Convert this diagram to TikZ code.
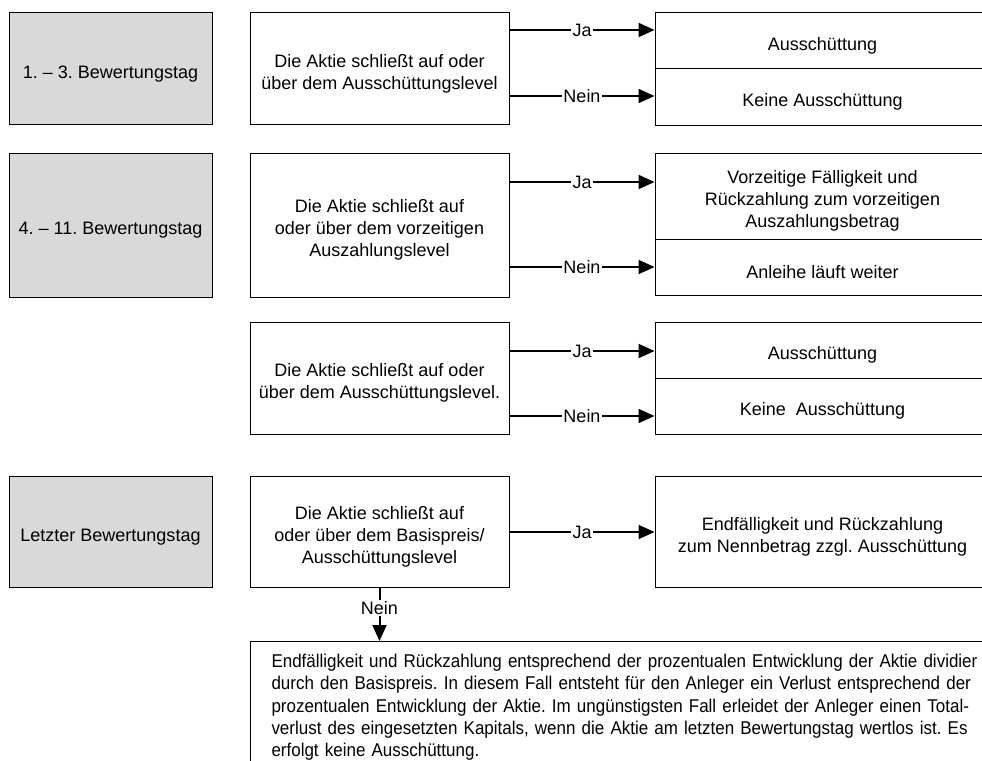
\documentclass[tikz,border=0pt]{standalone}
\usepackage{fontspec}
\setmainfont{Liberation Sans}
\newfontfamily\narrowfont{Liberation Sans}[FakeStretch=0.918]
\usetikzlibrary{arrows.meta}
\definecolor{StageClr}{RGB}{217,217,217}
\frenchspacing
\newcommand{\topgap}{\rule{0pt}{23.5pt}}

\begin{document}
\begin{tikzpicture}[x=1pt,y=1pt,
  frame/.style={draw=black,line width=1pt},
  box/.style={frame,inner sep=2pt,align=center,font=\fontsize{18}{22}\selectfont},
  stage/.style={box,fill=StageClr,minimum width=203pt},
  ask/.style={box,minimum width=259pt},
  result/.style={box,minimum width=335pt},
  arr/.style={line width=2pt,-{Triangle[length=16pt,width=14pt]}},
  lbl/.style={fill=white,inner sep=1.5pt,font=\fontsize{18}{22}\selectfont}]
\useasboundingbox (0,0) rectangle (982,-760);
\clip (0,0) rectangle (982,-760);

% Bewertungstage
\node[stage,minimum height=111pt] (day1) at (110.5,-68.5) {\topgap 1. – 3. Bewertungstag};
\node[stage,minimum height=144pt] (day2) at (110.5,-225) {\topgap 4. – 11. Bewertungstag};
\node[stage,minimum height=111pt] (day3) at (110.5,-531.5) {\topgap Letzter Bewertungstag};

% Bedingungen
\node[ask,minimum height=111pt] (ask1) at (379.5,-68.5) {\topgap Die Aktie schließt auf oder\\über dem Ausschüttungslevel};
\node[ask,minimum height=144pt] (ask2) at (379.5,-225) {\topgap Die Aktie schließt auf\\oder über dem vorzeitigen\\Auszahlungslevel};
\node[ask,minimum height=112pt] (ask3) at (379.5,-378) {\topgap Die Aktie schließt auf oder\\über dem Ausschüttungslevel.};
\node[ask,minimum height=111pt] (ask4) at (379.5,-531.5) {\topgap Die Aktie schließt auf\\oder über dem Basispreis/\\Ausschüttungslevel};

% Folgen
\node[result,minimum height=56pt] (res1a) at (822.5,-41) {\topgap Ausschüttung};
\node[result,minimum height=56pt] (res1b) at (822.5,-97) {\topgap Keine Ausschüttung};
\node[result,minimum height=86pt] (res2a) at (822.5,-196) {\topgap Vorzeitige Fälligkeit und\\Rückzahlung zum vorzeitigen\\Auszahlungsbetrag};
\node[result,minimum height=56pt] (res2b) at (822.5,-267) {\topgap Anleihe läuft weiter};
\node[result,minimum height=56pt] (res3a) at (822.5,-350) {\topgap Ausschüttung};
\node[result,minimum height=56pt] (res3b) at (822.5,-406) {\topgap Keine~ Ausschüttung};
\node[result,minimum height=111pt] (res4) at (822.5,-531.5) {\topgap Endfälligkeit und Rückzahlung\\zum Nennbetrag zzgl. Ausschüttung};

\node[frame,anchor=north west,align=left,text width=720pt,minimum height=132pt,
  inner xsep=21pt,inner ysep=4pt,font=\narrowfont\fontsize{18.5}{22.3}\selectfont] (final) at (250,-641)
  {Endfälligkeit und Rückzahlung entsprechend der prozentualen Entwicklung der Aktie dividier\\
   durch den Basispreis. In diesem Fall entsteht für den Anleger ein Verlust entsprechend der\\
   prozentualen Entwicklung der Aktie. Im ungünstigsten Fall erleidet der Anleger einen Total-\\
   verlust des eingesetzten Kapitals, wenn die Aktie am letzten Bewertungstag wertlos ist. Es\\
   erfolgt keine Ausschüttung.};

% Ja / Nein
\draw[arr] (ask1.east |- 0,-30) -- node[lbl]{Ja} (res1a.west |- 0,-30);
\draw[arr] (ask1.east |- 0,-96) -- node[lbl]{Nein} (res1b.west |- 0,-96);
\draw[arr] (ask2.east |- 0,-182) -- node[lbl]{Ja} (res2a.west |- 0,-182);
\draw[arr] (ask2.east |- 0,-267) -- node[lbl]{Nein} (res2b.west |- 0,-267);
\draw[arr] (ask3.east |- 0,-351) -- node[lbl]{Ja} (res3a.west |- 0,-351);
\draw[arr] (ask3.east |- 0,-416) -- node[lbl]{Nein} (res3b.west |- 0,-416);
\draw[arr] (ask4.east |- 0,-532) -- node[lbl]{Ja} (res4.west |- 0,-532);
\draw[arr] (ask4.south) -- node[lbl,pos=0.38]{Nein} (ask4.south |- final.north);

\end{tikzpicture}
\end{document}
